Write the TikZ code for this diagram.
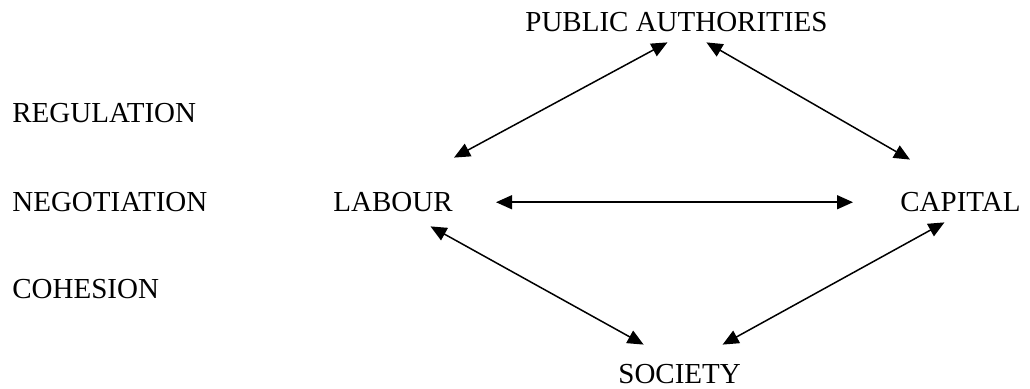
\documentclass[tikz,border=0pt]{standalone}
\usepackage{fontspec}
\setmainfont{Liberation Serif}
\usetikzlibrary{arrows.meta}

\begin{document}
\begin{tikzpicture}[
    actor/.style={inner sep=0pt, text height=9.75pt, text depth=0pt,
      anchor=base west, font=\fontsize{14.5}{17}\selectfont},
    level/.style={actor},
    rel/.style={black, line width=0.75pt,
      {Triangle[length=8pt, width=7pt]}-{Triangle[length=8pt, width=7pt]}}
  ]

  \useasboundingbox (0,0) rectangle (515pt,194.5pt);

  % the three levels on the left
  \node (reg) [level] at (6pt,133pt)   {REGULATION};
  \node (neg) [level] at (6pt,88.5pt)  {NEGOTIATION};
  \node (coh) [level] at (6pt,45pt)    {COHESION};

  % the four actors
  \node (pa)  [actor] at (262.5pt,178.5pt) {PUBLIC AUTHORITIES};
  \node (lab) [actor] at (166.5pt,88.5pt)  {LABOUR};
  \node (cap) [actor] at (450pt,88.5pt)    {CAPITAL};
  \node (soc) [actor] at (309pt,2.5pt)     {SOCIETY};

  \draw[rel] ([shift={(0.5pt,17.25pt)}]lab.north east) -- ([shift={(-4.5pt,-5pt)}]pa.south);
  \draw[rel] ([shift={(15pt,-5pt)}]pa.south)           -- ([shift={(5pt,16.25pt)}]cap.north west);

  \draw[rel] ([xshift=21.5pt]lab.east) -- ([xshift=-23.5pt]cap.west);

  \draw[rel] ([shift={(18.75pt,-7pt)}]lab.south) -- ([shift={(-18pt,9.75pt)}]soc.north);
  \draw[rel] ([shift={(21.5pt,9.75pt)}]soc.north) -- ([shift={(-8pt,-5pt)}]cap.south);

\end{tikzpicture}
\end{document}
